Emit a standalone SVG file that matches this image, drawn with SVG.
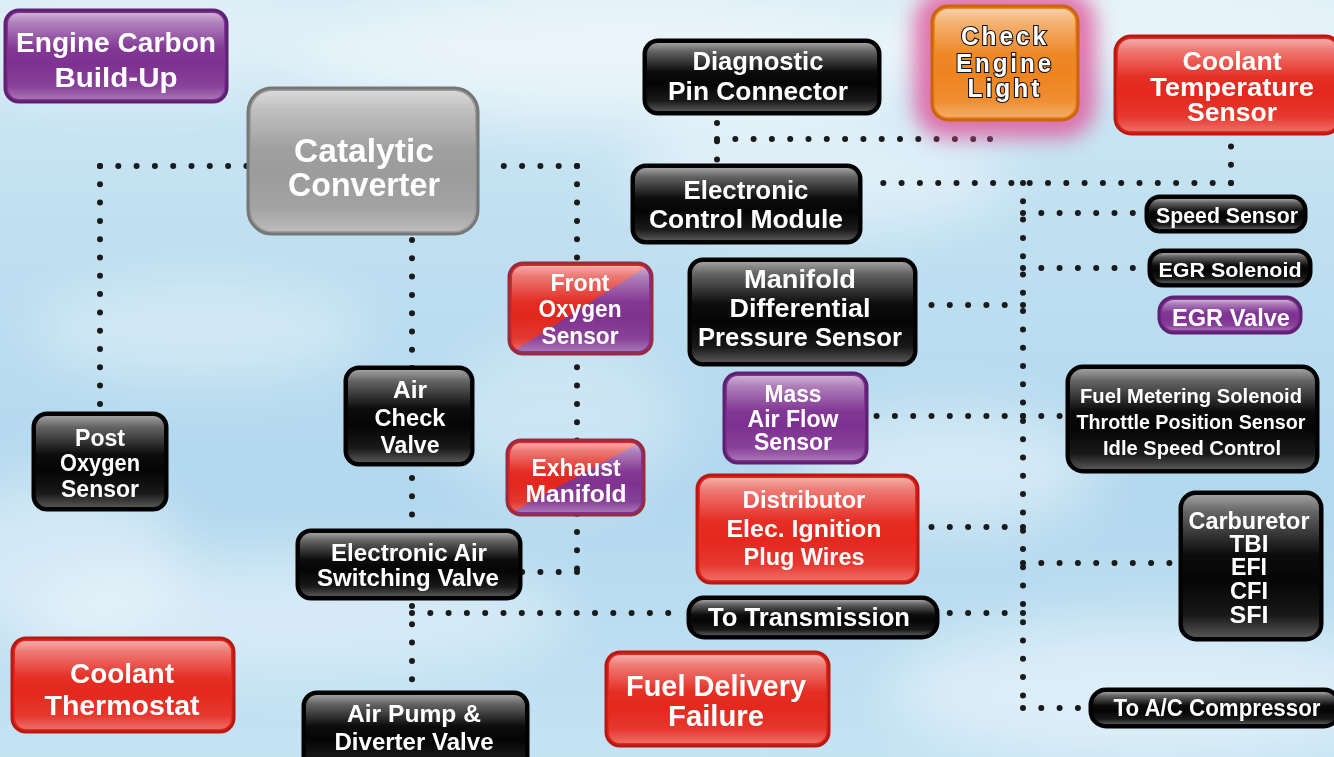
<svg xmlns="http://www.w3.org/2000/svg" width="1334" height="757" viewBox="0 0 1334 757">
<defs>
<linearGradient id="sky" x1="0" y1="0" x2="0" y2="1">
<stop offset="0" stop-color="#d2e9f4"/><stop offset="0.3" stop-color="#bfe0f1"/><stop offset="0.65" stop-color="#b2d8ee"/><stop offset="1" stop-color="#c4e3f3"/>
</linearGradient>
<linearGradient id="gloss" x1="0" y1="0" x2="0" y2="1">
<stop offset="0" stop-color="#fff" stop-opacity="0.62"/><stop offset="0.12" stop-color="#fff" stop-opacity="0.38"/><stop offset="0.42" stop-color="#fff" stop-opacity="0.03"/><stop offset="0.6" stop-color="#fff" stop-opacity="0"/><stop offset="0.85" stop-color="#fff" stop-opacity="0.08"/><stop offset="1" stop-color="#fff" stop-opacity="0.32"/>
</linearGradient>
<linearGradient id="split" x1="0" y1="0" x2="1" y2="1">
<stop offset="0" stop-color="#e3261c"/><stop offset="0.5" stop-color="#e0281f"/><stop offset="0.5" stop-color="#82338f"/><stop offset="1" stop-color="#7a3290"/>
</linearGradient>
<filter id="blur" x="-50%" y="-50%" width="200%" height="200%"><feGaussianBlur stdDeviation="28"/></filter>
<filter id="glow" x="-30%" y="-30%" width="160%" height="160%"><feGaussianBlur stdDeviation="10"/></filter>
<style>
.node .base{stroke-width:3}
.black .base{fill:#050505;stroke:#000}
.red .base{fill:#e4281e;stroke:#b81a13}
.purple .base{fill:#7e3191;stroke:#5e2070}
.grey .base{fill:#9c9c9c;stroke:#767676}
.orange .base{fill:#ee8420;stroke:#c9650d}
.split .base{fill:url(#split);stroke:#9a2a40}
.gloss{fill:url(#gloss)}
.lbl{font-family:"Liberation Sans",Arial,sans-serif;font-weight:bold;fill:#fff;text-anchor:middle}
.cel{stroke:#111;stroke-width:2.2px;paint-order:stroke;letter-spacing:3px}
.dots{fill:none;stroke:#1a1a1a;stroke-width:6;stroke-linecap:round;stroke-dasharray:0 18.3}
</style>
</defs>
<rect width="1334" height="757" fill="url(#sky)"/>
<g id="clouds" filter="url(#blur)" fill="#fff">
<ellipse cx="620" cy="55" rx="330" ry="70" opacity="0.55"/>
<ellipse cx="1150" cy="25" rx="260" ry="55" opacity="0.5"/>
<ellipse cx="820" cy="175" rx="190" ry="60" opacity="0.45"/>
<ellipse cx="200" cy="330" rx="170" ry="50" opacity="0.35"/>
<ellipse cx="950" cy="470" rx="150" ry="60" opacity="0.45"/>
<ellipse cx="300" cy="615" rx="270" ry="60" opacity="0.4"/>
<ellipse cx="1150" cy="690" rx="260" ry="70" opacity="0.45"/>
<ellipse cx="560" cy="420" rx="120" ry="80" opacity="0.3"/>
<ellipse cx="60" cy="560" rx="120" ry="90" opacity="0.4"/>
<ellipse cx="130" cy="40" rx="200" ry="60" opacity="0.35"/>
</g>
<g id="connectors" class="dots">
<path d="M100 166 H248"/>
<path d="M100 166 V410"/>
<path d="M577 166 H486"/>
<path d="M577 166 V572"/>
<path d="M577 572 H521"/>
<path d="M412 240 V690"/>
<path d="M412 613 H686"/>
<path d="M717 123 V160"/>
<path d="M717 139 H990"/>
<path d="M990 139 V122"/>
<path d="M1231 183 V136"/>
<path d="M1231 183 H868"/>
<path d="M1023 183 V708"/>
<path d="M1023 708 H1085"/>
<path d="M1023 213 H1140"/>
<path d="M1023 268 H1140"/>
<path d="M1023 305 H922"/>
<path d="M1023 416 H869"/>
<path d="M1023 416 H1062"/>
<path d="M1023 527 H930"/>
<path d="M1023 563 H1172"/>
<path d="M1023 613 H944"/>
</g>
<g id="node-engine-carbon" class="node purple">
<rect class="base" x="5" y="10" width="222" height="92" rx="14"/>
<rect class="gloss" x="8" y="13" width="216" height="86" rx="11"/>
<text class="lbl" x="116" y="52" font-size="28" textLength="200" lengthAdjust="spacingAndGlyphs">Engine Carbon</text>
<text class="lbl" x="116" y="87" font-size="28" textLength="123" lengthAdjust="spacingAndGlyphs">Build-Up</text>
</g>
<g id="node-catalytic-converter" class="node grey">
<rect class="base" x="248" y="88" width="230" height="146" rx="24"/>
<rect class="gloss" x="251" y="91" width="224" height="140" rx="21"/>
<text class="lbl" x="364" y="162" font-size="34" textLength="140" lengthAdjust="spacingAndGlyphs">Catalytic</text>
<text class="lbl" x="364" y="196" font-size="34" textLength="152" lengthAdjust="spacingAndGlyphs">Converter</text>
</g>
<g id="node-diagnostic" class="node black">
<rect class="base" x="644" y="40" width="236" height="74" rx="14"/>
<rect class="gloss" x="647" y="43" width="230" height="68" rx="11"/>
<text class="lbl" x="758" y="70" font-size="26" textLength="131" lengthAdjust="spacingAndGlyphs">Diagnostic</text>
<text class="lbl" x="758" y="100" font-size="26" textLength="180" lengthAdjust="spacingAndGlyphs">Pin Connector</text>
</g>
<g id="node-check-engine" class="node orange">
<rect x="914" y="-10" width="182" height="148" rx="34" fill="#e0559a" opacity="0.8" filter="url(#glow)"/>
<rect class="base" x="932" y="6" width="146" height="114" rx="16"/>
<rect class="gloss" x="935" y="9" width="140" height="108" rx="13"/>
<text class="lbl cel" x="1005" y="45" font-size="25" textLength="88" lengthAdjust="spacingAndGlyphs">Check</text>
<text class="lbl cel" x="1005" y="72" font-size="25" textLength="98" lengthAdjust="spacingAndGlyphs">Engine</text>
<text class="lbl cel" x="1005" y="97" font-size="25" textLength="75" lengthAdjust="spacingAndGlyphs">Light</text>
</g>
<g id="node-coolant-temp" class="node red">
<rect class="base" x="1115" y="36" width="226" height="98" rx="16"/>
<rect class="gloss" x="1118" y="39" width="220" height="92" rx="13"/>
<text class="lbl" x="1232" y="70" font-size="26" textLength="99" lengthAdjust="spacingAndGlyphs">Coolant</text>
<text class="lbl" x="1232" y="96" font-size="26" textLength="164" lengthAdjust="spacingAndGlyphs">Temperature</text>
<text class="lbl" x="1232" y="121" font-size="26" textLength="90" lengthAdjust="spacingAndGlyphs">Sensor</text>
</g>
<g id="node-ecm" class="node black">
<rect class="base" x="632" y="165" width="229" height="78" rx="14"/>
<rect class="gloss" x="635" y="168" width="223" height="72" rx="11"/>
<text class="lbl" x="746" y="199" font-size="26" textLength="125" lengthAdjust="spacingAndGlyphs">Electronic</text>
<text class="lbl" x="746" y="228" font-size="26" textLength="194" lengthAdjust="spacingAndGlyphs">Control Module</text>
</g>
<g id="node-speed-sensor" class="node black">
<rect class="base" x="1146" y="196" width="160" height="36" rx="14"/>
<rect class="gloss" x="1149" y="199" width="154" height="30" rx="11"/>
<text class="lbl" x="1227" y="223" font-size="21.5" textLength="142" lengthAdjust="spacingAndGlyphs">Speed Sensor</text>
</g>
<g id="node-egr-solenoid" class="node black">
<rect class="base" x="1149" y="250" width="162" height="36" rx="14"/>
<rect class="gloss" x="1152" y="253" width="156" height="30" rx="11"/>
<text class="lbl" x="1230" y="277" font-size="21" textLength="143" lengthAdjust="spacingAndGlyphs">EGR Solenoid</text>
</g>
<g id="node-egr-valve" class="node purple">
<rect class="base" x="1159" y="297" width="142" height="36" rx="15"/>
<rect class="gloss" x="1162" y="300" width="136" height="30" rx="12"/>
<text class="lbl" x="1231" y="326" font-size="23.5" textLength="118" lengthAdjust="spacingAndGlyphs">EGR Valve</text>
</g>
<g id="node-front-o2" class="node split">
<rect class="base" x="509" y="263" width="143" height="91" rx="14"/>
<rect class="gloss" x="512" y="266" width="137" height="85" rx="11"/>
<text class="lbl" x="580" y="291" font-size="23" textLength="59" lengthAdjust="spacingAndGlyphs">Front</text>
<text class="lbl" x="580" y="317" font-size="23" textLength="83" lengthAdjust="spacingAndGlyphs">Oxygen</text>
<text class="lbl" x="580" y="344" font-size="23" textLength="77" lengthAdjust="spacingAndGlyphs">Sensor</text>
</g>
<g id="node-mdps" class="node black">
<rect class="base" x="689" y="259" width="227" height="106" rx="14"/>
<rect class="gloss" x="692" y="262" width="221" height="100" rx="11"/>
<text class="lbl" x="800" y="288" font-size="26" textLength="112" lengthAdjust="spacingAndGlyphs">Manifold</text>
<text class="lbl" x="800" y="317" font-size="26" textLength="141" lengthAdjust="spacingAndGlyphs">Differential</text>
<text class="lbl" x="800" y="346" font-size="26" textLength="204" lengthAdjust="spacingAndGlyphs">Pressure Sensor</text>
</g>
<g id="node-maf" class="node purple">
<rect class="base" x="724" y="373" width="143" height="90" rx="14"/>
<rect class="gloss" x="727" y="376" width="137" height="84" rx="11"/>
<text class="lbl" x="793" y="402" font-size="23" textLength="57" lengthAdjust="spacingAndGlyphs">Mass</text>
<text class="lbl" x="793" y="427" font-size="23" textLength="91" lengthAdjust="spacingAndGlyphs">Air Flow</text>
<text class="lbl" x="793" y="450" font-size="23" textLength="78" lengthAdjust="spacingAndGlyphs">Sensor</text>
</g>
<g id="node-fuel-metering" class="node black">
<rect class="base" x="1067" y="366" width="251" height="106" rx="16"/>
<rect class="gloss" x="1070" y="369" width="245" height="100" rx="13"/>
<text class="lbl" x="1191" y="403" font-size="20" textLength="222" lengthAdjust="spacingAndGlyphs">Fuel Metering Solenoid</text>
<text class="lbl" x="1191" y="429" font-size="20" textLength="229" lengthAdjust="spacingAndGlyphs">Throttle Position Sensor</text>
<text class="lbl" x="1192" y="455" font-size="20" textLength="178" lengthAdjust="spacingAndGlyphs">Idle Speed Control</text>
</g>
<g id="node-post-o2" class="node black">
<rect class="base" x="33" y="413" width="134" height="97" rx="14"/>
<rect class="gloss" x="36" y="416" width="128" height="91" rx="11"/>
<text class="lbl" x="100" y="446" font-size="23" textLength="50" lengthAdjust="spacingAndGlyphs">Post</text>
<text class="lbl" x="100" y="471" font-size="23" textLength="80" lengthAdjust="spacingAndGlyphs">Oxygen</text>
<text class="lbl" x="100" y="497" font-size="23" textLength="78" lengthAdjust="spacingAndGlyphs">Sensor</text>
</g>
<g id="node-air-check" class="node black">
<rect class="base" x="345" y="367" width="128" height="98" rx="14"/>
<rect class="gloss" x="348" y="370" width="122" height="92" rx="11"/>
<text class="lbl" x="410" y="398" font-size="23.5" textLength="34" lengthAdjust="spacingAndGlyphs">Air</text>
<text class="lbl" x="410" y="426" font-size="23.5" textLength="71" lengthAdjust="spacingAndGlyphs">Check</text>
<text class="lbl" x="410" y="453" font-size="23.5" textLength="59" lengthAdjust="spacingAndGlyphs">Valve</text>
</g>
<g id="node-exhaust-manifold" class="node split">
<rect class="base" x="507" y="440" width="137" height="75" rx="14"/>
<rect class="gloss" x="510" y="443" width="131" height="69" rx="11"/>
<text class="lbl" x="576" y="476" font-size="23.5" textLength="89" lengthAdjust="spacingAndGlyphs">Exhaust</text>
<text class="lbl" x="576" y="502" font-size="23.5" textLength="101" lengthAdjust="spacingAndGlyphs">Manifold</text>
</g>
<g id="node-distributor" class="node red">
<rect class="base" x="697" y="475" width="221" height="108" rx="14"/>
<rect class="gloss" x="700" y="478" width="215" height="102" rx="11"/>
<text class="lbl" x="804" y="508" font-size="24" textLength="123" lengthAdjust="spacingAndGlyphs">Distributor</text>
<text class="lbl" x="804" y="537" font-size="24" textLength="155" lengthAdjust="spacingAndGlyphs">Elec. Ignition</text>
<text class="lbl" x="804" y="565" font-size="24" textLength="121" lengthAdjust="spacingAndGlyphs">Plug Wires</text>
</g>
<g id="node-carburetor" class="node black">
<rect class="base" x="1180" y="492" width="142" height="148" rx="16"/>
<rect class="gloss" x="1183" y="495" width="136" height="142" rx="13"/>
<text class="lbl" x="1249" y="529" font-size="23" textLength="121" lengthAdjust="spacingAndGlyphs">Carburetor</text>
<text class="lbl" x="1249" y="552" font-size="23" textLength="39" lengthAdjust="spacingAndGlyphs">TBI</text>
<text class="lbl" x="1249" y="575" font-size="23" textLength="36" lengthAdjust="spacingAndGlyphs">EFI</text>
<text class="lbl" x="1249" y="599" font-size="23" textLength="38" lengthAdjust="spacingAndGlyphs">CFI</text>
<text class="lbl" x="1249" y="623" font-size="23" textLength="39" lengthAdjust="spacingAndGlyphs">SFI</text>
</g>
<g id="node-easv" class="node black">
<rect class="base" x="297" y="530" width="224" height="69" rx="14"/>
<rect class="gloss" x="300" y="533" width="218" height="63" rx="11"/>
<text class="lbl" x="409" y="561" font-size="24" textLength="156" lengthAdjust="spacingAndGlyphs">Electronic Air</text>
<text class="lbl" x="408" y="586" font-size="24" textLength="182" lengthAdjust="spacingAndGlyphs">Switching Valve</text>
</g>
<g id="node-to-transmission" class="node black">
<rect class="base" x="688" y="597" width="250" height="41" rx="16"/>
<rect class="gloss" x="691" y="600" width="244" height="35" rx="13"/>
<text class="lbl" x="809" y="626" font-size="25" textLength="202" lengthAdjust="spacingAndGlyphs">To Transmission</text>
</g>
<g id="node-coolant-thermostat" class="node red">
<rect class="base" x="12" y="638" width="222" height="94" rx="14"/>
<rect class="gloss" x="15" y="641" width="216" height="88" rx="11"/>
<text class="lbl" x="122" y="683" font-size="28" textLength="104" lengthAdjust="spacingAndGlyphs">Coolant</text>
<text class="lbl" x="122" y="715" font-size="28" textLength="155" lengthAdjust="spacingAndGlyphs">Thermostat</text>
</g>
<g id="node-fuel-delivery" class="node red">
<rect class="base" x="606" y="652" width="223" height="94" rx="14"/>
<rect class="gloss" x="609" y="655" width="217" height="88" rx="11"/>
<text class="lbl" x="716" y="696" font-size="29" textLength="180" lengthAdjust="spacingAndGlyphs">Fuel Delivery</text>
<text class="lbl" x="716" y="726" font-size="29" textLength="96" lengthAdjust="spacingAndGlyphs">Failure</text>
</g>
<g id="node-air-pump" class="node black">
<rect class="base" x="303" y="692" width="225" height="80" rx="14"/>
<rect class="gloss" x="306" y="695" width="219" height="74" rx="11"/>
<text class="lbl" x="414" y="722" font-size="24" textLength="134" lengthAdjust="spacingAndGlyphs">Air Pump &amp;</text>
<text class="lbl" x="414" y="750" font-size="24" textLength="159" lengthAdjust="spacingAndGlyphs">Diverter Valve</text>
</g>
<g id="node-to-ac" class="node black">
<rect class="base" x="1090" y="689" width="250" height="38" rx="16"/>
<rect class="gloss" x="1093" y="692" width="244" height="32" rx="13"/>
<text class="lbl" x="1217" y="716" font-size="23" textLength="207" lengthAdjust="spacingAndGlyphs">To A/C Compressor</text>
</g>
</svg>
